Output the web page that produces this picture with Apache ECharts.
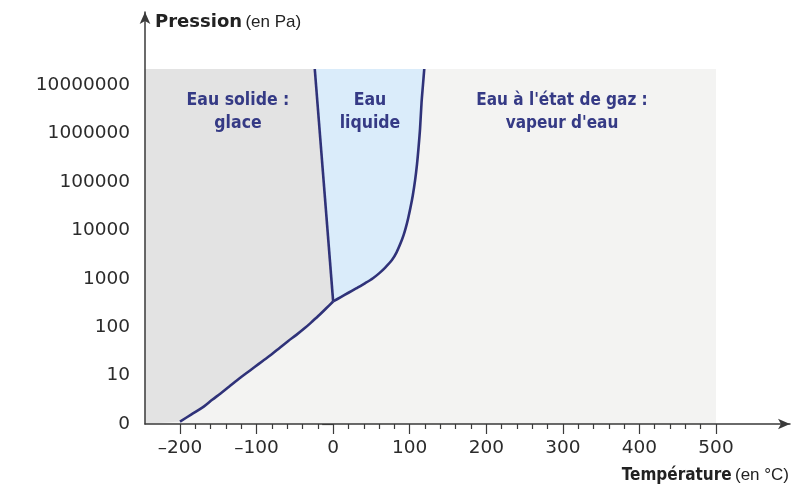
<!DOCTYPE html>
<html><head><meta charset="utf-8">
<script src="https://cdn.jsdelivr.net/npm/echarts@6/dist/echarts.min.js"></script>
<style>html,body{margin:0;padding:0;background:#fff}#chart{width:800px;height:491px}</style>
</head><body><div id="chart"></div>
<script>
// ---- Data ----
const xTicks = [-200, -100, 0, 100, 200, 300, 400, 500];
const xTickLabels = ['–200', '–100', '0', '100', '200', '300', '400', '500'];
const yTickLabels = ['0', '10', '100', '1000', '10000', '100000', '1000000', '10000000'];

// Sublimation curve (solid / gas), temperature in °C, pressure in Pa
const sublimationT = [-200, -185, -169, -158, -147, -136, -125, -114, -103, -92, -81, -70, -59, -48, -37, -27, -18, -9, 0];
const sublimationP = [1.12, 1.58, 2.29, 3.16, 4.27, 5.89, 8.13, 11.0, 14.8, 20.0, 26.9, 37.2, 51.3, 69.2, 95.5, 132, 178, 245, 339];
// Melting line (solid / liquid)
const meltingT = [0, -24];
const meltingP = [339, 21400000];
// Vaporization curve (liquid / gas)
const vaporT = [0, 10, 20, 30, 42, 52, 60, 68, 77, 83, 88, 92, 95, 98, 101, 104, 107, 109.5, 111.5, 113.5, 115.5, 117.3, 119];
const vaporP = [339, 417, 513, 631, 813, 1023, 1288, 1698, 2455, 3548, 5370, 7943, 11482, 17783, 29512, 52481, 107152, 229087, 501187, 1258925, 4466836, 10000000, 21400000];

// Extent of the coloured diagram
const diagramTmin = -246, diagramTmax = 500;
const diagramPmin = 1, diagramPmax = 21400000;

const regionNames = ['Eau à l\'état de gaz', 'Eau solide', 'Eau liquide'];
const regionColors = ['#f3f3f2', '#e3e3e3', '#daecfa'];

// ---- Build ----
const lg = p => Math.log10(p);
const pairs = (T, P) => T.map((t, i) => [t, lg(P[i])]);
const subl = pairs(sublimationT, sublimationP);
const melt = pairs(meltingT, meltingP);
const vap = pairs(vaporT, vaporP);
const pTop = lg(diagramPmax), pBottom = lg(diagramPmin);

const regionPolys = [
  [[diagramTmin, pBottom], [diagramTmax, pBottom], [diagramTmax, pTop], [diagramTmin, pTop]],
  [[diagramTmin, pBottom]].concat(subl, melt.slice(1), [[diagramTmin, pTop]]),
  vap.concat(melt.slice().reverse().slice(0, -1))
];

const FONT = 'DejaVu Sans';
const REG = '"Liberation Sans", sans-serif';
const LABEL_FONT = '"DejaVu Sans Condensed", "DejaVu Sans", sans-serif';
const lineColor = '#2f3279';
const textBlue = '#353a85';
const axisColor = '#3a3a3a';

const chart = echarts.init(document.getElementById('chart'), null, {renderer: 'canvas'});
chart.setOption({
  animation: false,
  backgroundColor: '#ffffff',
  grid: [
    {left: 180, right: 84, top: 85, bottom: 67},
    {left: 145, right: 10, top: 12, bottom: 67}
  ],
  xAxis: [
    {
      gridIndex: 0, type: 'value', min: -200, max: 500, interval: 100,
      axisLine: {show: false},
      axisTick: {show: true, length: 10, lineStyle: {color: axisColor, width: 1.2}},
      minorTick: {show: true, splitNumber: 5, length: 5, lineStyle: {color: axisColor, width: 1.2}},
      splitLine: {show: false}, minorSplitLine: {show: false},
      axisLabel: {
        margin: 15, fontSize: 18.5, fontFamily: FONT, color: '#2b2b2b',
        formatter: v => { const i = xTicks.indexOf(v); return i >= 0 ? xTickLabels[i] : ''; }
      }
    },
    {
      gridIndex: 1, type: 'value', min: 0, max: 1, z: 10,
      axisLine: {show: true, symbol: ['none', 'arrow'], symbolSize: [8, 12], lineStyle: {color: axisColor, width: 1.5}},
      axisTick: {show: false}, axisLabel: {show: false}, splitLine: {show: false},
      name: '{b|Température} {n|(en °C)}',
      nameLocation: 'end', nameGap: 0,
      nameTextStyle: {
        align: 'right', verticalAlign: 'top', padding: [43, 1, 0, 0],
        rich: {
          b: {fontFamily: LABEL_FONT, fontWeight: 'bold', fontSize: 17, color: '#222'},
          n: {fontFamily: REG, fontSize: 17, color: '#222'}
        }
      }
    }
  ],
  yAxis: [
    {
      gridIndex: 0, type: 'value', min: 0, max: 7, interval: 1, offset: 35,
      axisLine: {show: false},
      axisTick: {show: true, length: 11, lineStyle: {color: axisColor, width: 1.2}},
      splitLine: {show: false},
      axisLabel: {
        margin: 15, fontSize: 18.5, fontFamily: FONT, color: '#2b2b2b',
        padding: [0, 0, 4, 0],
        formatter: v => yTickLabels[v] !== undefined ? yTickLabels[v] : ''
      }
    },
    {
      gridIndex: 1, type: 'value', min: 0, max: 1, z: 10,
      axisLine: {show: true, symbol: ['none', 'arrow'], symbolSize: [8, 12], lineStyle: {color: axisColor, width: 1.5}},
      axisTick: {show: false}, axisLabel: {show: false}, splitLine: {show: false},
      name: '{b|Pression} {n|(en Pa)}',
      nameLocation: 'end', nameGap: -10,
      nameTextStyle: {
        align: 'left', verticalAlign: 'middle', padding: [0, 0, 0, 10],
        rich: {
          b: {fontFamily: FONT, fontWeight: 'bold', fontSize: 18, color: '#222'},
          n: {fontFamily: REG, fontSize: 17, color: '#222'}
        }
      }
    }
  ],
  graphic: [
    {type: 'text', x: 238, y: 112, z: 20, style: {text: 'Eau solide :\nglace', align: 'center', verticalAlign: 'middle', lineHeight: 23, font: 'bold 17.5px ' + LABEL_FONT, fill: textBlue}},
    {type: 'text', x: 370, y: 112, z: 20, style: {text: 'Eau\nliquide', align: 'center', verticalAlign: 'middle', lineHeight: 23, font: 'bold 17.5px ' + LABEL_FONT, fill: textBlue}},
    {type: 'text', x: 562, y: 112, z: 20, style: {text: 'Eau à l\'état de gaz :\nvapeur d\'eau', align: 'center', verticalAlign: 'middle', lineHeight: 23, font: 'bold 17px ' + LABEL_FONT, fill: textBlue}}
  ],
  series: [
    {
      type: 'custom', name: 'régions', xAxisIndex: 0, yAxisIndex: 0, clip: false, z: 1, silent: true,
      data: regionNames.map((n, i) => ({name: n, value: [i]})),
      renderItem: (params, api) => {
        const i = params.dataIndex;
        return {
          type: 'polygon',
          shape: {points: regionPolys[i].map(p => api.coord(p))},
          style: {fill: regionColors[i], stroke: null}
        };
      }
    },
    {type: 'line', name: 'Sublimation', data: subl, clip: false, symbol: 'none', smooth: 0.3, z: 5,
      lineStyle: {color: lineColor, width: 2.6, join: 'round'}},
    {type: 'line', name: 'Fusion', data: melt, clip: false, symbol: 'none', z: 5,
      lineStyle: {color: lineColor, width: 2.6}},
    {type: 'line', name: 'Vaporisation', data: vap, clip: false, symbol: 'none', smooth: 0.3, z: 5,
      lineStyle: {color: lineColor, width: 2.6, join: 'round'}}
  ]
});
</script>
</body></html>
